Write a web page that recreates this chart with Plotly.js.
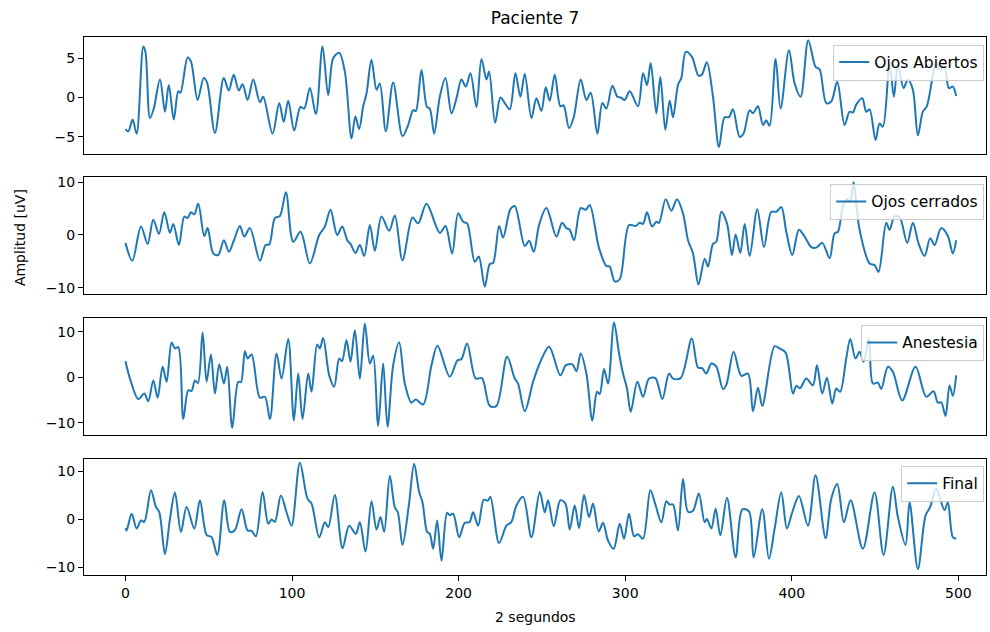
<!DOCTYPE html>
<html><head><meta charset="utf-8">
<script src="https://cdn.plot.ly/plotly-3.0.1.min.js"></script>
<style>html,body{margin:0;padding:0;background:#fff}#chart{width:990px;height:632px}</style>
</head><body><div id="chart"></div>
<script>
const seriesNames = ["Ojos Abiertos", "Ojos cerrados", "Anestesia", "Final"];
const xTicks = [0, 100, 200, 300, 400, 500];
const yTicks1 = [-5, 0, 5];
const yTicks = [-10, 0, 10];

const abiertos = [[0,-4.0],[1.7,-4.3],[4.3,-2.8],[6.7,-4.6],[10.7,6.5],[12,5.8],[14.7,-2.6],[17,-1.4],[20.7,2.3],[23.7,-1.8],[26,1.6],[29,-2.8],[31.7,0.8],[33,0.6],[37.3,5.1],[39.3,4.6],[43.3,-0.3],[47,2.5],[49,1.9],[53.7,-4.5],[59,2.5],[62,0.9],[65,2.9],[68,0.9],[70.3,1.7],[73.3,-0.3],[76.7,2.3],[80.7,-0.6],[82.7,0.1],[88.3,-4.6],[92.3,-0.7],[95,-3.1],[97.7,-0.4],[101.3,-4.2],[105,-1.2],[107.3,-1.4],[110.7,1.2],[114.3,-2.1],[118.3,6.5],[121.7,0.3],[124.7,5.0],[128.3,5.7],[131.7,3.3],[135.7,-5.2],[138,-2.4],[140.3,-4.0],[142.7,-1.1],[144.7,0.5],[147.7,4.8],[150.7,1.0],[152.7,1.8],[156.3,-4.3],[160.7,1.9],[166.3,-4.9],[169.7,-3.5],[172.7,-1.6],[174.3,-1.7],[177.7,3.5],[181,-1.2],[182.7,-1.4],[185.3,-4.6],[188.7,0.1],[192.1,2.5],[195.7,-2.0],[198.7,-0.1],[201.7,2.3],[204.3,1.4],[207.1,3.1],[210.7,-1.2],[213.7,4.9],[216.7,2.3],[218.3,3.3],[221.9,-3.2],[225.1,0],[227.7,-0.7],[230.7,-1.5],[234.1,3.1],[237.1,0.1],[239.7,3.0],[243.7,-2.6],[246.7,-0.1],[249.7,-1.7],[252.3,1.3],[254.7,-0.4],[257.7,2.9],[261.1,-1.1],[263,-1.0],[266.3,-3.9],[269.1,-2.5],[273.3,2.3],[276.7,-0.3],[279.3,0.6],[283.3,-4.6],[286.3,-0.7],[288.7,-1.4],[292.3,1.5],[295.3,0.1],[297.3,0.0],[299.7,-0.3],[302.7,0.8],[307.7,-1.1],[310.7,3.1],[313.1,1.6],[315.3,4.4],[318.7,-2.0],[321.1,2.6],[324.1,-4.1],[326.7,-0.4],[328.7,-2.5],[331.7,1.6],[333.7,2.5],[336.4,5.8],[340,5.2],[344,2.8],[346,2.9],[349,4.5],[352.7,0.1],[356.3,-6.3],[359.7,-2.5],[362.3,-2.5],[364.7,-1.5],[368.7,-5.0],[371,-4.6],[374.7,-1.6],[376.7,-2.0],[379.7,-1.1],[382.7,-3.5],[384.7,-2.9],[386.7,-3.6],[390.3,4.9],[393.3,-1.4],[398.3,6.0],[401.7,1.8],[405.3,0.1],[409.9,7.3],[414.3,3.9],[416.7,3.6],[420.7,-0.7],[423.7,-0.5],[427.3,2.0],[431.7,-3.5],[434.7,-1.8],[436.7,-1.9],[438.7,-0.9],[442.3,-0.1],[444.7,-1.8],[446.7,-1.5],[450.3,-5.4],[452.7,-3.3],[454.7,-3.7],[458.7,4.4],[461.3,0.1],[463.7,4.2],[467.1,1.2],[469.7,2.3],[472.7,1.0],[475.7,-4.8],[478.7,-1.8],[481.1,-1.1],[486.7,4.4],[489.1,3.6],[491.7,3.8],[494.3,1.2],[496.7,1.4],[498.7,0.2]];

const cerrados = [[0,-1.5],[4.1,-4.9],[9.3,1.6],[13.3,-1.7],[16.7,2.9],[20.1,0.2],[23.3,4.3],[26.7,0.4],[28.7,2.1],[32.1,-1.9],[35.3,3.5],[37.3,3.2],[39.3,4.3],[41.3,3.9],[43.7,5.9],[47.3,-0.2],[49.3,1.3],[52.7,-3.5],[55.7,-3.8],[59.1,-1.0],[62.1,-3.2],[65.1,-1.0],[68.7,1.7],[71.3,-0.3],[74.7,1.3],[80.7,-4.9],[84.1,-1.9],[86.3,-1.8],[89.7,3.2],[92.7,3.6],[96.3,8.1],[100.7,-1.3],[105.1,0.6],[110.7,-5.4],[116.3,0],[119.7,1.6],[123.1,4.8],[127.1,0],[130.1,1.6],[133.3,-1.1],[135.1,-1.7],[138.1,-3.4],[140.7,-1.9],[143.3,-4.0],[146.7,1.9],[149.7,-3.0],[153.7,3.5],[158.3,0.8],[161.7,3.7],[166.3,-4.8],[172.3,3.3],[175.7,2.2],[180.7,5.9],[188.7,0.4],[192.1,1.7],[196.1,-3.5],[199.7,4.1],[202.7,2.5],[205.1,2.2],[209.7,-5.1],[212.1,-4.1],[215.7,-9.8],[218.7,-5.5],[220.7,-5.3],[224.3,1.7],[226.7,-0.5],[231.1,4.9],[233.7,5.5],[239.7,-2.1],[242.3,-1.1],[245.1,-3.2],[248.3,1.9],[252.7,5.1],[258.7,-0.3],[262.1,2.3],[264.7,1.3],[266.7,1.0],[269.3,-1.0],[273.3,5.1],[276.3,4.8],[278.7,5.7],[284.3,-2.5],[288.7,-5.9],[290.7,-6.0],[293.7,-8.8],[296.7,-8.4],[302.3,1.9],[306.3,1.7],[308.7,2.3],[310.7,2.1],[313.1,4.3],[316.1,1.6],[318.7,2.5],[320.3,2.3],[324.3,6.8],[327.7,4.6],[331.1,6.8],[334.7,4.1],[337.7,-1.0],[340.7,-3.5],[344,-9.4],[347.7,-4.5],[349.7,-6.0],[352.7,-1.7],[354.7,-1.3],[357.7,4.4],[361.1,2.2],[364.1,-3.8],[366.3,0.1],[369.1,-3.4],[371.7,2.1],[374.7,-4.0],[379.3,4.9],[383.3,-2.3],[387.7,4.4],[390.7,4.4],[393.7,5.3],[396.7,0.6],[400.3,-3.8],[404.3,1.0],[407.7,-0.3],[411.7,-2.3],[414.7,-2.4],[418.3,-1.5],[422.7,-4.4],[425.7,0.3],[427.7,0.6],[430.7,5.4],[433.1,6.8],[435,6.4],[437.1,10.0],[438.7,6.0],[440.7,1.0],[446.7,-5.4],[449.7,-5.7],[452.1,-7.0],[456.7,2.3],[458.7,1.0],[461.7,3.5],[464.7,3.4],[469.3,-1.5],[472.7,2.3],[476.1,-1.6],[479.7,-4.0],[483.1,-0.6],[485.7,-1.9],[489.7,1.3],[493.7,-0.2],[496.7,-3.5],[498.7,-1.0]];

const anestesia = [[0,3.5],[2.7,-0.3],[7.7,-4.8],[11.3,-3.6],[13.7,-5.3],[16.7,-0.7],[19.3,-4.5],[22.3,2.3],[24.7,-1.0],[27.7,7.6],[29.7,6.3],[31.7,6.6],[34.7,-9.2],[37.7,-2.9],[39.7,-3.0],[41.7,-0.7],[43.5,-1.3],[46.3,9.8],[48.7,-1.0],[51.3,5.0],[53.7,-3.6],[56.3,2.8],[59.1,-1.4],[61.1,2.3],[64.1,-11.1],[67.7,-1.0],[69.3,-1.1],[71.7,5.7],[73.3,4.1],[75.7,5.0],[80.7,-4.5],[83.7,-4.3],[86.7,-9.2],[90.7,5.2],[93.7,-0.3],[97.7,8.4],[101.1,-9.5],[103.7,0.8],[106.3,-9.2],[109.7,0.8],[111.7,-3.2],[115.1,7.2],[116.7,6.3],[118.7,8.6],[122.3,0.4],[125.3,-2.1],[128.3,4.1],[130,3.5],[132.7,8.1],[135.1,3.4],[137.7,10.3],[140.7,-0.3],[143.7,11.8],[146.7,3.0],[148.7,4.7],[151.7,-10.7],[154.7,3.0],[157.3,-10.9],[160.7,2.6],[164.3,7.6],[167.7,-1.4],[171.7,-5.6],[174.3,-4.9],[178.7,-6.0],[183.7,2.6],[187.3,6.9],[194.7,0.1],[199.3,3.7],[201.7,4.0],[205.1,7.4],[210.3,-0.3],[214,-0.2],[218.7,-6.3],[222.7,-6.3],[229.1,4.5],[233.7,-0.3],[235.7,-1.4],[239.7,-7.5],[244.7,-1.0],[249.1,3.4],[254.3,6.7],[261.1,0.4],[264.3,2.6],[268.3,2.8],[270.7,1.3],[273.3,5.2],[276.7,0.8],[280.3,-9.5],[283.1,-3.2],[284.7,-3.7],[287.3,1.8],[289.7,-1.4],[293.3,12.0],[296.3,5.2],[298.7,0.8],[301.1,-2.5],[303.3,-7.6],[307.3,-1.0],[310.7,-4.3],[314.3,-0.3],[318.1,-0.2],[322.3,-4.8],[326.3,0.8],[328.7,-0.3],[333.3,-0.2],[340,8.5],[343.7,2.1],[346.2,2.0],[348.7,0.8],[351.7,3.0],[354.7,2.3],[358.7,-2.6],[360.7,-1.7],[365.1,5.6],[369.7,0.3],[373.7,0.8],[376.7,-7.5],[379.7,-2.3],[382.3,-6.3],[389.7,6.8],[392.7,6.3],[396.3,5.4],[400.7,-3.6],[402.7,-1.9],[405,-2.4],[408.7,-0.3],[412.7,-1.8],[415.1,2.6],[418.3,-3.6],[421.1,-0.1],[424.3,-5.8],[426.7,-2.5],[429,-3.2],[432.7,4.1],[435.1,8.4],[438.3,4.1],[440.7,5.6],[443.1,3.4],[446.3,8.6],[448.7,-1.4],[451.7,-1.2],[453.7,-2.6],[457.7,2.3],[460.7,1.2],[466.3,-5.1],[474.3,2.3],[480.7,-4.3],[485.1,-3.1],[487.7,-5.6],[489.7,-5.5],[492.3,-8.5],[494.7,-1.8],[496.7,-4.1],[498.7,0.4]];

const finalS = [[0,-1.8],[0.7,-2.3],[3.7,1.2],[6.7,-1.9],[9.3,-0.2],[11.3,-0.5],[15.3,6.1],[18.3,2.6],[20.3,1.5],[23.7,-7.2],[26.7,0.1],[29.7,5.6],[33.3,-2.6],[36.7,2.6],[41.3,-1.9],[44.7,4.0],[48.7,-3.2],[51.7,-3.7],[55.1,-7.4],[59.3,4.0],[62.7,-2.6],[65.7,-2.2],[69.7,2.1],[73.3,-2.3],[75.7,-2.4],[78.3,-3.5],[82.3,5.7],[85.7,-0.9],[87.7,0.0],[89.7,-0.5],[93.3,5.0],[96.7,1.5],[99.7,-1.3],[104.7,11.8],[109.3,4.3],[111.7,3.3],[116.3,-3.7],[119.7,-0.6],[121.7,-1.6],[125.7,5.1],[130.3,-6.0],[134.3,-1.3],[138.3,-3.0],[140.7,-0.6],[144.1,-6.7],[147.7,3.8],[150.7,-2.1],[153.1,0.5],[155.3,-2.6],[158.7,9.1],[161.7,2.5],[163.5,1.5],[166.3,-5.3],[170.1,2.9],[173.3,11.6],[176.3,5.7],[178.3,3.6],[181.1,-2.6],[182.7,-3.0],[184.7,-6.1],[187.1,-0.2],[189.7,-8.6],[193.1,1.4],[194.7,0.9],[196.7,1.2],[200.3,-3.7],[203.7,-0.7],[206.5,-0.6],[208.7,1.5],[211.7,-1.3],[215.1,4.1],[217.5,3.9],[219.1,4.7],[224.3,-4.9],[228.7,-1.3],[231.7,-0.5],[234.7,2.9],[238.7,4.7],[243.7,-3.7],[248.7,5.7],[251.7,1.5],[253.7,4.0],[257.1,-1.4],[261.1,4.0],[264.1,3.3],[266.7,-2.1],[269.7,2.9],[272.3,-1.8],[275.3,5.1],[278.3,0.5],[280.7,3.3],[284.1,-2.5],[286.7,-0.7],[289.7,-4.4],[293.1,-6.1],[296.7,-0.9],[299.3,-4.0],[302.3,1.2],[305.3,-3.5],[307.7,-3.1],[310.7,-4.0],[315.1,6.1],[318.3,2.9],[321.7,-0.6],[324.7,3.8],[326.7,3.1],[328.7,3.1],[331.7,-2.3],[334.7,8.4],[337.7,1.6],[340.7,1.8],[344.2,5.4],[347.7,-0.6],[349.1,0.1],[351.7,-1.9],[354.3,2.2],[357.1,-3.3],[361.1,4.5],[366.3,-7.9],[370.3,2.1],[374.3,1.7],[377.1,-7.9],[382.3,2.1],[386.3,-8.2],[389.7,-1.9],[393.7,5.6],[397.1,-1.9],[400.3,1.5],[404.3,4.9],[409.7,-1.3],[414.3,9.2],[420.3,-3.9],[423.7,4.3],[427.3,7.4],[431.3,-0.6],[435.3,4.0],[442.7,-6.1],[449.7,5.6],[455.1,-7.4],[460.7,6.8],[463.7,0.5],[468.3,-5.3],[470.7,3.6],[475.7,-10.3],[480.3,0.8],[483.1,2.6],[486.7,6.4],[491.7,1.9],[493.7,3.6],[496.7,-3.7],[498.7,-4.0]];

const allSeries = [abiertos, cerrados, anestesia, finalS];
const lineColor = '#1f77b4';
const font = 'DejaVu Sans, Liberation Sans, sans-serif';

const traces = allSeries.map((s, i) => ({
  type: 'scatter', mode: 'lines',
  x: s.map(p => p[0]), y: s.map(p => p[1]),
  name: seriesNames[i],
  line: {color: lineColor, width: 2, shape: 'spline', smoothing: 0.9},
  xaxis: i === 0 ? 'x' : 'x' + (i + 1),
  yaxis: i === 0 ? 'y' : 'y' + (i + 1),
  legend: i === 0 ? 'legend' : 'legend' + (i + 1),
  showlegend: true
}));

const yDomains = [[0.7825, 1.0], [0.5223, 0.7398], [0.2602, 0.4777], [0, 0.2162]];
const yRanges = [[-7.18, 7.7], [-11.2, 11.0], [-12.7, 13.0], [-11.57, 12.65]];
const legendTops = [0.986, 0.727, 0.465, 0.203];

const layout = {
  width: 990, height: 632,
  margin: {l: 84, r: 4, t: 37, b: 57},
  paper_bgcolor: '#fff', plot_bgcolor: '#fff',
  font: {family: font, size: 14, color: '#000'},
  title: {text: 'Paciente 7', font: {family: font, size: 17, color: '#000'},
          x: 0.5, xref: 'paper', xanchor: 'center', y: 0.9715, yref: 'container', yanchor: 'middle'},
  annotations: [
    {text: 'Amplitud [uV]', xref: 'paper', yref: 'paper', x: -0.071, y: 0.628,
     textangle: -90, showarrow: false, xanchor: 'center', yanchor: 'middle', font: {family: font, size: 14, color: '#000'}},
    {text: '2 segundos', xref: 'paper', yref: 'paper', x: 0.5, y: -0.078,
     showarrow: false, xanchor: 'center', yanchor: 'middle', font: {family: font, size: 14, color: '#000'}}
  ]
};

for (let i = 0; i < 4; i++) {
  const xk = i === 0 ? 'xaxis' : 'xaxis' + (i + 1);
  const yk = i === 0 ? 'yaxis' : 'yaxis' + (i + 1);
  const ya = i === 0 ? 'y' : 'y' + (i + 1);
  const xa = i === 0 ? 'x' : 'x' + (i + 1);
  const bottom = i === 3;
  layout[xk] = {
    domain: [0, 1], anchor: ya, range: [-24.9, 516.6],
    showgrid: false, zeroline: false, showline: true, mirror: true,
    linecolor: '#000', linewidth: 1,
    ticks: bottom ? 'outside' : '', ticklen: 5, tickcolor: '#000', tickwidth: 1,
    tickvals: xTicks, showticklabels: bottom,
    tickfont: {family: font, size: 14, color: '#000'}
  };
  layout[yk] = {
    domain: yDomains[i], anchor: xa, range: yRanges[i],
    showgrid: false, zeroline: false, showline: true, mirror: true,
    linecolor: '#000', linewidth: 1,
    ticks: 'outside', ticklen: 5, tickcolor: '#000', tickwidth: 1,
    tickvals: i === 0 ? yTicks1 : yTicks,
    tickfont: {family: font, size: 14, color: '#000'}
  };
  const lk = i === 0 ? 'legend' : 'legend' + (i + 1);
  layout[lk] = {
    x: 0.998, xanchor: 'right', y: legendTops[i], yanchor: 'top',
    bgcolor: 'rgba(255,255,255,0.8)', bordercolor: '#cccccc', borderwidth: 1,
    itemwidth: 30,
    font: {family: font, size: 15.5, color: '#000'}
  };
}

Plotly.newPlot('chart', traces, layout, {displayModeBar: false, staticPlot: true});
</script>
</body></html>
